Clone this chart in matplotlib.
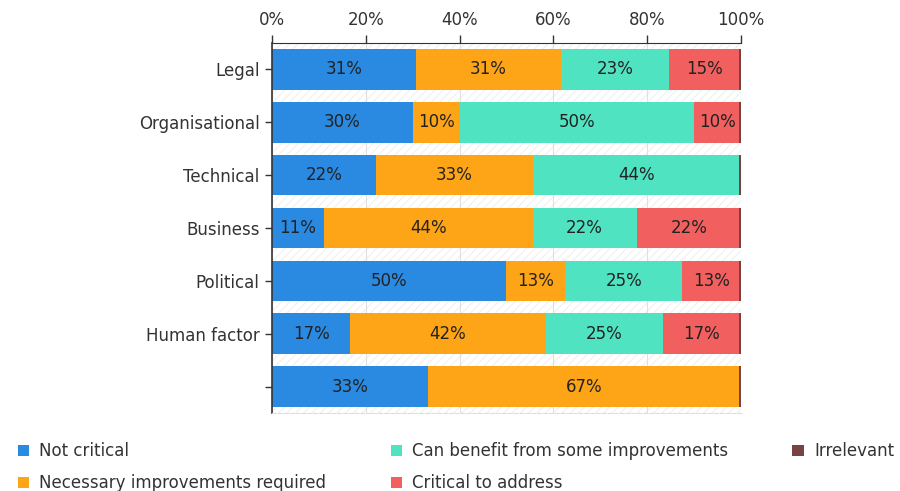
import matplotlib
matplotlib.use('Agg')
import matplotlib.pyplot as plt
import numpy as np

# categories, top to bottom
categories = ['Legal', 'Organisational', 'Technical', 'Business', 'Political', 'Human factor', '']
series = ['Not critical', 'Necessary improvements required', 'Can benefit from some improvements',
          'Critical to address', 'Irrelevant']

# answer counts per category
not_critical = [4, 3, 2, 1, 4, 2, 1]
necessary = [4, 1, 3, 4, 1, 5, 2]
can_benefit = [3, 5, 4, 2, 2, 3, 0]
critical = [2, 1, 0, 2, 1, 2, 0]
irrelevant = [0, 0, 0, 0, 0, 0, 0]

colors = ['#2a89e1', '#fea517', '#50e3c2', '#f25f5f', '#7a4343']

counts = np.array([not_critical, necessary, can_benefit, critical, irrelevant], dtype=float)
pct = 100 * counts / counts.sum(axis=0)

plt.rcParams.update({'font.size': 12, 'font.family': 'DejaVu Sans', 'hatch.linewidth': 0.8})
fig = plt.figure(figsize=(9.0, 4.91), dpi=100)
ax = fig.add_axes([272/900, 1-413/491, 469/900, 370/491])

# faint hatched background
ax.patch.set_hatch('////')
ax.patch.set_edgecolor('#f0f0f0')
ax.patch.set_linewidth(0)

y = np.arange(len(categories))
left = np.zeros(len(categories))
for i, name in enumerate(series):
    vals = pct[i]
    ax.barh(y, vals, left=left, height=0.77, color=colors[i], label=name, zorder=2)
    for j in range(len(categories)):
        if vals[j] >= 5:
            ax.text(left[j] + vals[j]/2, y[j], '%d%%' % int(vals[j] + 0.5), ha='center', va='center',
                    color='#222222', fontsize=12, zorder=4)
    left = left + vals
# thin sliver at the end of each bar for the last (empty) series
ax.barh(y, np.full(len(categories), 0.5), left=np.full(len(categories), 99.5), height=0.77,
        color=colors[4], zorder=3)

ax.set_xlim(0, 100)
ax.set_ylim(len(categories) - 0.5, -0.5)
ax.set_yticks(y)
ax.set_yticklabels(categories)
ax.xaxis.tick_top()
ax.set_xticks(np.arange(0, 101, 20))
ax.set_xticklabels(['%d%%' % v for v in range(0, 101, 20)])
ax.tick_params(axis='x', length=6, width=1, pad=4, colors='#333333', labelcolor='#333333')
ax.tick_params(axis='y', length=5, width=1, pad=4, colors='#333333', labelcolor='#333333')
ax.grid(axis='x', color='#e0e0e0', linewidth=0.8, zorder=0)
ax.set_axisbelow(True)
ax.spines['right'].set_visible(False)
ax.spines['bottom'].set_color('#dddddd')
ax.spines['bottom'].set_linestyle('--')
ax.spines['top'].set_color('#333333')
ax.spines['left'].set_color('#333333')
ax.spines['left'].set_linewidth(1.2)

handles, labels = ax.get_legend_handles_labels()
fig.legend(handles, labels, ncol=3, loc='upper left', bbox_to_anchor=(0.003, 0.13),
           frameon=False, fontsize=12, handlelength=0.7, handleheight=0.7, handletextpad=0.6,
           columnspacing=3.85, labelspacing=0.85, labelcolor='#333333')

fig.savefig('out.png', dpi=100)
